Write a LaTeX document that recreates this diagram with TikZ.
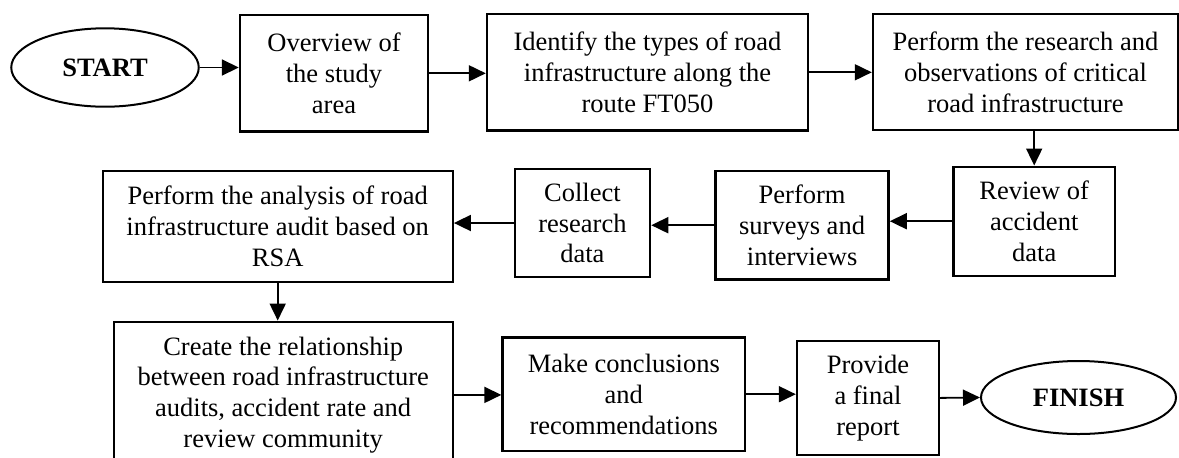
\documentclass[tikz,border=0pt]{standalone}
\usepackage{fontspec}
\setmainfont{Liberation Serif}
\usetikzlibrary{arrows.meta,shapes.geometric}
\begin{document}
\begin{tikzpicture}[x=0.5pt,y=-0.5pt,
  every node/.style={font=\fontsize{13.25}{15.4}\selectfont, inner sep=0pt, align=center},
  proc/.style={draw, line width=1.2pt, rectangle},
  term/.style={draw, line width=1pt, ellipse, font=\fontsize{13.25}{15.4}\selectfont\bfseries},
  flow/.style={line width=0.9pt, -{Triangle[length=8.5pt,width=8pt]}}]
\clip (0,0) rectangle (1179,457);
\useasboundingbox (0,0) rectangle (1179,457);

\node[term, minimum width=93.75pt, minimum height=39.2pt] (start) at (105,67.5) {START};
\node[proc, minimum width=94pt, minimum height=58.35pt] (b1) at (334,73.3) {Overview of\\the study\\area};
\node[proc, minimum width=160.5pt, minimum height=58.35pt] (b2) at (647.5,72.3) {Identify the types of road\\infrastructure along the\\route FT050};
\node[proc, minimum width=152.5pt, minimum height=58pt] (b3) at (1025.5,72) {Perform the research and\\observations of critical\\road infrastructure};

\node[proc, minimum width=80.6pt, minimum height=54.5pt] (review) at (1034.2,221.2) {Review of\\accident\\data};
\node[proc, minimum width=86.5pt, minimum height=54.15pt] (surveys) at (802.1,225.2) {Perform\\surveys and\\interviews};
\node[proc, minimum width=67.65pt, minimum height=54pt] (collect) at (582.4,223) {Collect\\research\\data};
\node[proc, minimum width=175pt, minimum height=55.5pt] (analysis) at (277.7,226.2) {Perform the analysis of road\\infrastructure audit based on\\RSA};

\node[proc, minimum width=169.5pt, minimum height=73.15pt] (create) at (283.2,394.9) {Create the relationship\\between road infrastructure\\audits, accident rate and\\review community};
\node[proc, minimum width=121.25pt, minimum height=56.85pt] (make) at (623.8,394.2) {Make conclusions\\and\\recommendations};
\node[proc, minimum width=71pt, minimum height=57.15pt] (provide) at (868,397.9) {Provide\\a final\\report};
\node[term, minimum width=97.5pt, minimum height=36.5pt] (finish) at (1078.5,397.5) {FINISH};

\draw[flow] (start.east) -- (start.east -| b1.west);
\draw[flow] (b1.east) -- (b1.east -| b2.west);
\draw[flow] (b2.east) -- (b2.east -| b3.west);
\draw[flow] (review.north |- b3.south) -- (review.north);
\draw[flow] (review.west) -- (review.west -| surveys.east);
\draw[flow] (surveys.west) -- (surveys.west -| collect.east);
\draw[flow] (collect.west) -- (collect.west -| analysis.east);
\draw[flow] (analysis.south) -- (analysis.south |- create.north);
\draw[flow] (create.east) -- (create.east -| make.west);
\draw[flow] (make.east) -- (make.east -| provide.west);
\draw[flow] (provide.east) -- (finish.west);
\end{tikzpicture}
\end{document}
